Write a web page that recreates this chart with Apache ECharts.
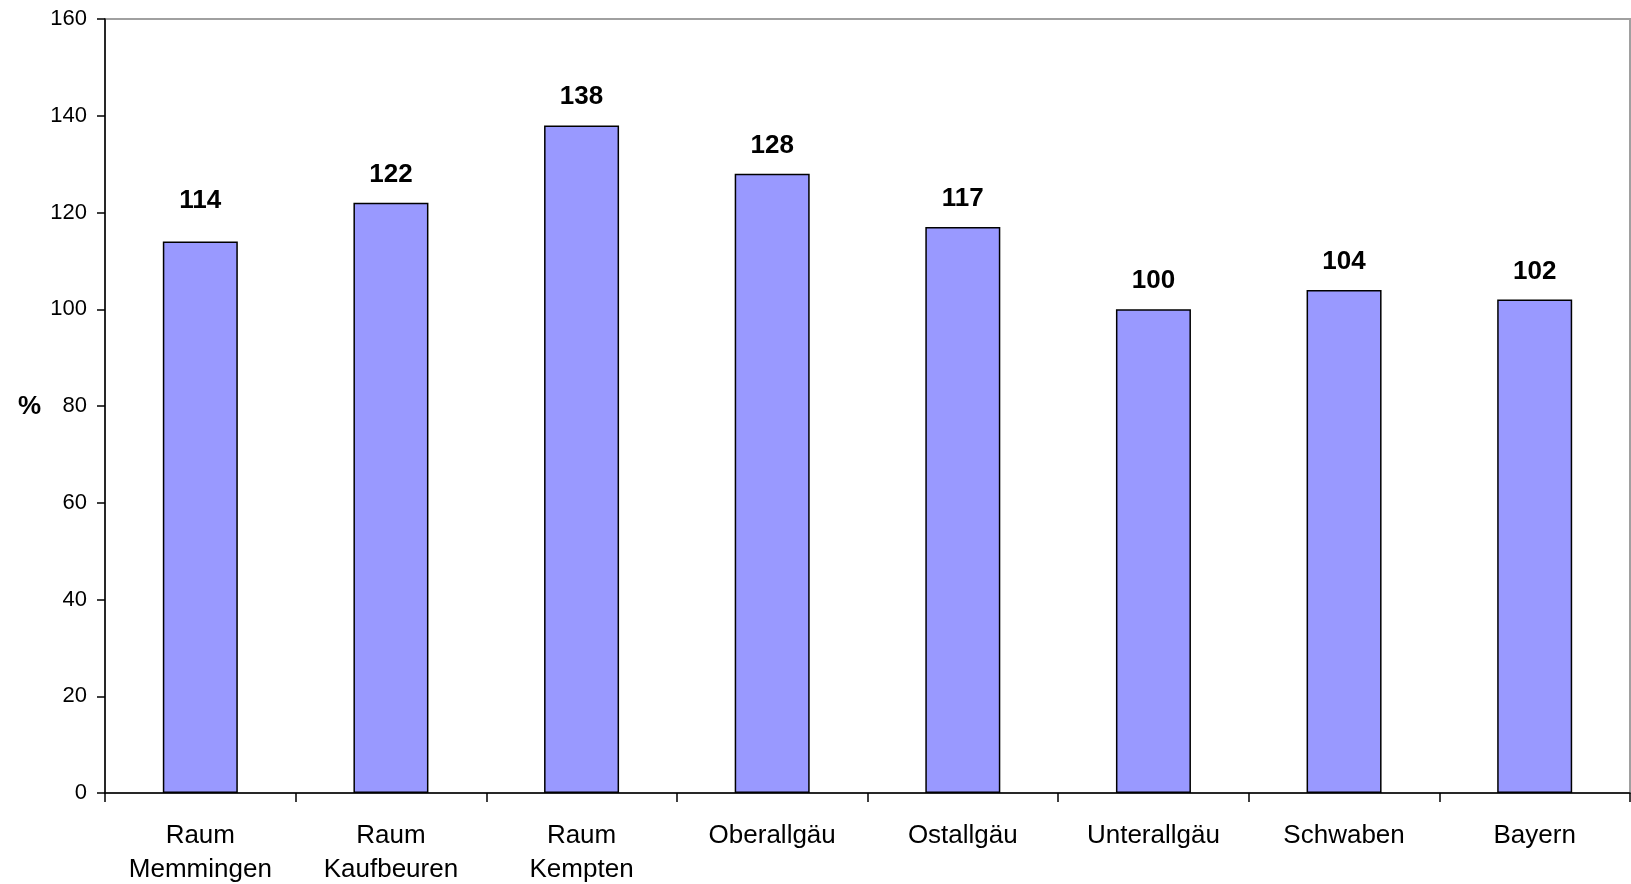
<!DOCTYPE html>
<html>
<head>
<meta charset="utf-8">
<script src="https://cdn.jsdelivr.net/npm/echarts@6/dist/echarts.min.js"></script>
<style>
html,body{margin:0;padding:0;background:#fff;}
#chart{width:1631px;height:884px;}
</style>
</head>
<body>
<div id="chart"></div>
<script>
const categories = ['Raum\nMemmingen','Raum\nKaufbeuren','Raum\nKempten','Oberallgäu','Ostallgäu','Unterallgäu','Schwaben','Bayern'];
const values = [114, 122, 138, 128, 117, 100, 104, 102];
const yTicks = {min: 0, max: 160, interval: 20};
const axisName = '%';

const FONT = '"Liberation Sans", Arial, sans-serif';
const chart = echarts.init(document.getElementById('chart'), null, {renderer: 'canvas'});
const seriesData = values.map((v, i) => i === 0
  ? {value: v, label: {distance: 28}}
  : (v === 138 ? {value: v, label: {distance: 16}} : v));
chart.setOption({
  backgroundColor: '#fff',
  animation: false,
  title: {
    text: axisName,
    left: 13,
    top: 389,
    textStyle: {fontFamily: FONT, fontSize: 26, fontWeight: 'bold', color: '#000'}
  },
  grid: {
    left: 105, right: 1, top: 19, bottom: 91,
    outerBoundsMode: 'none',
    containLabel: false,
    show: true, borderColor: '#a0a0a0', borderWidth: 2, backgroundColor: '#fff'
  },
  xAxis: {
    type: 'category',
    data: categories,
    boundaryGap: true,
    axisLine: {show: true, lineStyle: {color: '#000', width: 1.5}},
    axisTick: {show: true, length: 9, alignWithLabel: false, lineStyle: {color: '#000', width: 1.5}},
    axisLabel: {fontFamily: FONT, fontSize: 26, lineHeight: 34, color: '#000', margin: 26, interval: 0}
  },
  yAxis: {
    type: 'value',
    min: yTicks.min, max: yTicks.max, interval: yTicks.interval,
    axisLine: {show: true, lineStyle: {color: '#000', width: 1.5}},
    axisTick: {show: true, length: 8, lineStyle: {color: '#000', width: 1.5}},
    axisLabel: {fontFamily: FONT, fontSize: 22, color: '#000', margin: 18},
    splitLine: {show: false}
  },
  series: [{
    type: 'bar',
    data: seriesData,
    barWidth: 75,
    itemStyle: {color: '#9999FF', borderColor: '#000', borderWidth: 1.5},
    label: {
      show: true, position: 'top', distance: 15,
      fontFamily: FONT, fontSize: 26, fontWeight: 'bold', color: '#000'
    }
  }]
});
</script>
</body>
</html>
